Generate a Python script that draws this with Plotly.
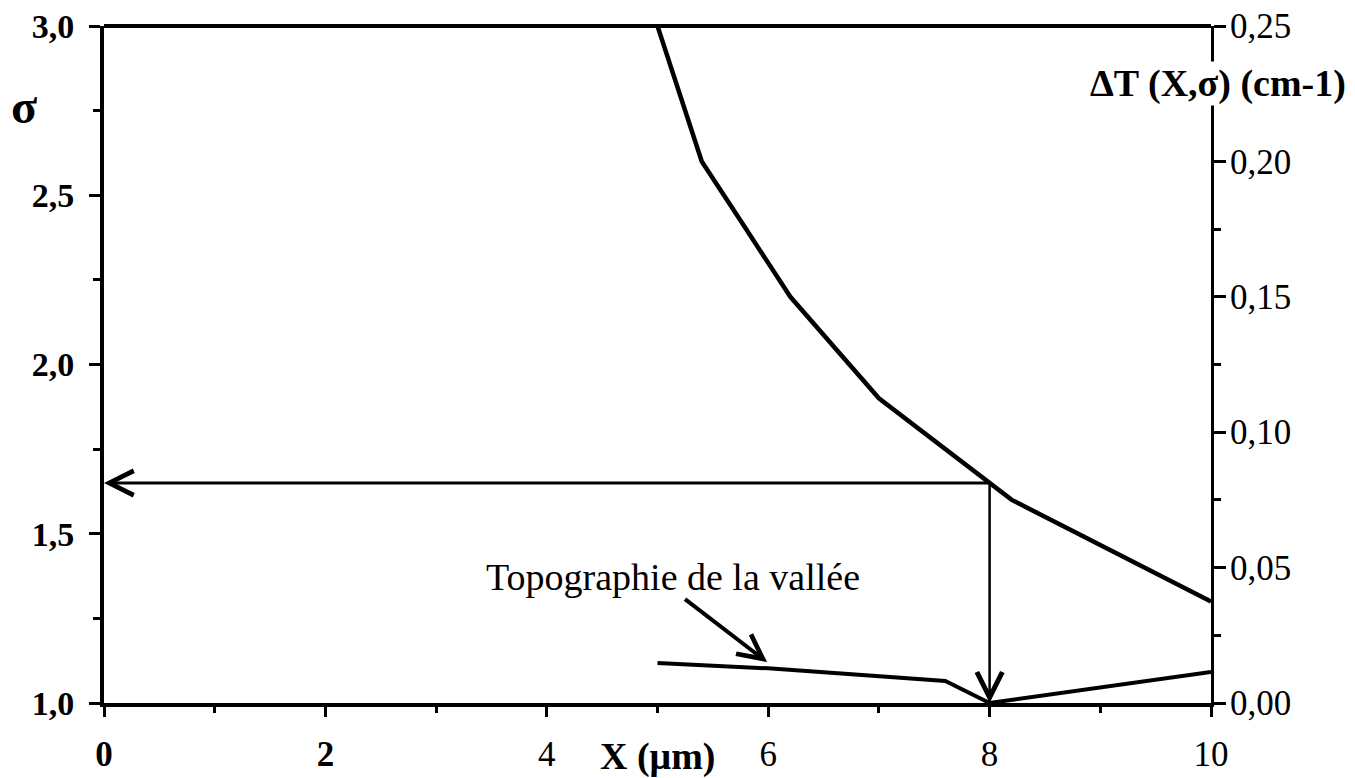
import numpy as np
import plotly.graph_objects as go

# ---- data ----
x_sigma = [5.0, 5.4, 5.8, 6.2, 7.0, 7.6, 8.2, 8.8, 9.4, 10.0]
sigma = [3.0, 2.6, 2.4, 2.2, 1.9, 1.75, 1.6, 1.5, 1.4, 1.3]

x_topo = [5.0, 6.0, 7.6, 8.0, 10.0]
delta_t = [0.0148, 0.0128, 0.0081, 0.0, 0.0115]

x_tickvals = [0, 2, 4, 6, 8, 10]
x_ticktext = ["<b>0</b>", "<b>2</b>", "4", "6", "8", "10"]
x_minor = [1, 3, 5, 7, 9]
y_tickvals = [1.0, 1.5, 2.0, 2.5, 3.0]
y_ticktext = ["1,0", "1,5", "2,0", "2,5", "3,0"]
y_minor = [1.25, 1.75, 2.25, 2.75]
y2_tickvals = [0.0, 0.05, 0.10, 0.15, 0.20, 0.25]
y2_ticktext = ["0,00", "0,05", "0,10", "0,15", "0,20", "0,25"]
y2_minor = [0.025, 0.075, 0.125, 0.175, 0.225]

x_read = 8.0
sigma_read = float(np.interp(x_read, x_sigma, sigma))

# topography annotation arrow (head on the curve, tail near the label)
topo_arrow_head = (5.99, 0.0151)
topo_arrow_tail = (5.235, 0.0388)
topo_label_pos = (5.14, 0.0465)

FONT = "Liberation Serif"
W, H = 1355, 778
ML, MR, MT, MB = 104, 1355 - 1211, 26, 778 - 703

fig = go.Figure()
fig.add_trace(go.Scatter(x=x_sigma, y=sigma, mode="lines",
                         line=dict(color="black", width=4.5), yaxis="y",
                         showlegend=False, hoverinfo="skip"))
fig.add_trace(go.Scatter(x=x_topo, y=delta_t, mode="lines",
                         line=dict(color="black", width=4), yaxis="y2",
                         showlegend=False, hoverinfo="skip"))

TICK = 35
fig.update_layout(
    width=W, height=H,
    margin=dict(l=ML, r=MR, t=MT, b=MB, pad=0, autoexpand=False),
    plot_bgcolor="white", paper_bgcolor="white",
    font=dict(family=FONT, color="black", size=TICK),
    xaxis=dict(range=[0, 10], tickmode="array", tickvals=x_tickvals, ticktext=x_ticktext,
               showline=True, linecolor="black", linewidth=4, mirror=False,
               ticks="outside", ticklen=10, tickwidth=3, tickcolor="black",
               ticklabelstandoff=7, automargin=False, ticklabeloverflow="allow",
               minor=dict(tickmode="array", tickvals=x_minor, ticks="outside",
                          ticklen=6, tickwidth=3, tickcolor="black"),
               showgrid=False, zeroline=False,
               tickfont=dict(family=FONT, size=TICK, color="black")),
    yaxis=dict(range=[1, 3], tickmode="array", tickvals=y_tickvals, ticktext=y_ticktext,
               showline=True, linecolor="black", linewidth=4,
               ticks="outside", ticklen=11, tickwidth=3, tickcolor="black",
               ticklabelstandoff=8, automargin=False, ticklabeloverflow="allow",
               minor=dict(tickmode="array", tickvals=y_minor, ticks="outside",
                          ticklen=7, tickwidth=3, tickcolor="black"),
               showgrid=False, zeroline=False,
               tickfont=dict(family=FONT, size=34, color="black", weight="bold")),
    yaxis2=dict(range=[0, 0.25], overlaying="y", side="right",
                tickmode="array", tickvals=y2_tickvals, ticktext=y2_ticktext,
                showline=True, linecolor="black", linewidth=3,
                ticks="outside", ticklen=12, tickwidth=3, tickcolor="black",
                ticklabelstandoff=-3, automargin=False, ticklabeloverflow="allow",
                minor=dict(tickmode="array", tickvals=y2_minor, ticks="outside",
                           ticklen=7, tickwidth=3, tickcolor="black"),
                showgrid=False, zeroline=False,
                tickfont=dict(family=FONT, size=TICK, color="black")),
    # top frame line of the plotting area
    shapes=[dict(type="line", xref="paper", yref="paper", x0=0, x1=1, y0=1, y1=1,
                 line=dict(color="black", width=4), layer="above")],
)

pw = W - ML - MR
ph = H - MT - MB


def px_x(px):
    return (px - ML) / pw


def px_y(py):
    return (H - MB - py) / ph


annotations = [
    dict(text="σ", xref="paper", yref="paper", x=px_x(24), y=px_y(106),
         showarrow=False, font=dict(family=FONT, size=48, weight="bold"),
         xanchor="center", yanchor="middle"),
    dict(text="ΔT (X,σ) (cm-1)", xref="paper", yref="paper", x=px_x(1347), y=px_y(83),
         showarrow=False, font=dict(family=FONT, size=38, weight="bold"),
         xanchor="right", yanchor="middle", bgcolor="white", borderpad=0),
    dict(text="X (μm)", xref="x", yref="paper", x=5.0, y=px_y(756),
         showarrow=False, font=dict(family=FONT, size=38, weight="bold"),
         xanchor="center", yanchor="middle"),
    dict(text="Topographie de la vallée", xref="x", yref="y2",
         x=topo_label_pos[0], y=topo_label_pos[1],
         showarrow=False, font=dict(family=FONT, size=38),
         xanchor="center", yanchor="middle"),
    # horizontal read-off arrow
    dict(text="", xref="x", yref="y", axref="x", ayref="y",
         x=0, y=sigma_read, ax=x_read, ay=sigma_read,
         showarrow=True, arrowhead=5, arrowwidth=3, arrowsize=1.6,
         arrowcolor="black", standoff=0, startstandoff=0),
    # vertical read-off arrow
    dict(text="", xref="x", yref="y", axref="x", ayref="y",
         x=x_read, y=1.0, ax=x_read, ay=sigma_read,
         showarrow=True, arrowhead=5, arrowwidth=2.5, arrowsize=2.0,
         arrowcolor="black", standoff=0, startstandoff=0),
    # topography pointer arrow
    dict(text="", xref="x", yref="y2", axref="x", ayref="y2",
         x=topo_arrow_head[0], y=topo_arrow_head[1],
         ax=topo_arrow_tail[0], ay=topo_arrow_tail[1],
         showarrow=True, arrowhead=5, arrowwidth=4, arrowsize=1.2,
         arrowcolor="black", standoff=0, startstandoff=0),
]
fig.update_layout(annotations=annotations)

# remove the browser's default page margin so the figure fills the window exactly
fig.write_html("out.html",
               config={"displayModeBar": False},
               post_script="document.body.style.margin='0';"
                           "document.documentElement.style.overflow='hidden';")
